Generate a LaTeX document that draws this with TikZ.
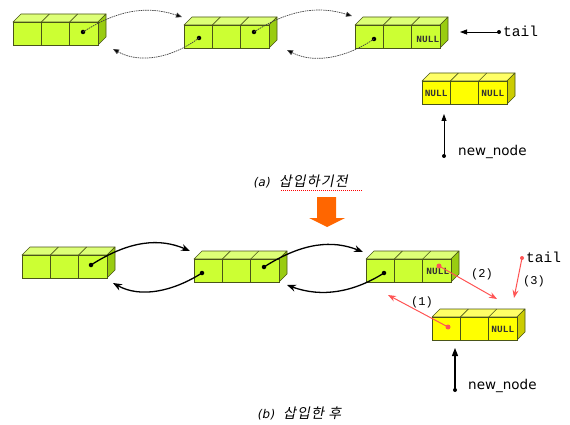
\documentclass[tikz,border=0pt]{standalone}
\usepackage{fontspec}
\setmainfont{DejaVu Sans}
\newfontfamily\monof{Liberation Mono}
\newfontfamily\kor[FakeSlant=0.2,LetterSpace=8]{Noto Sans CJK KR}
\newfontfamily\capf[FakeSlant=0.2]{DejaVu Sans}
\usetikzlibrary{arrows.meta,calc}
\definecolor{gfront}{HTML}{CCFF33}
\definecolor{gtop}{HTML}{DDFF77}
\definecolor{gside}{HTML}{99CC11}
\definecolor{yfront}{HTML}{FFFF00}
\definecolor{ytop}{HTML}{FFFF66}
\definecolor{yside}{HTML}{CCCC00}
\definecolor{edge}{HTML}{4A5518}
\definecolor{redarr}{HTML}{FF5555}
\definecolor{orng}{HTML}{FF6600}
\tikzset{
  cell/.style={draw=edge,line width=0.6pt,minimum width=28.33pt,minimum height=23pt,inner sep=0pt,outer sep=0pt},
  face/.style={draw=edge,line width=0.6pt,line join=round},
  dot/.style={circle,fill=black,inner sep=0pt,minimum size=4.5pt},
  rdot/.style={circle,fill=redarr,inner sep=0pt,minimum size=5pt},
  nulltxt/.style={font=\monof\fontsize{9.5}{9.5}\selectfont\bfseries,text=black!80},
  linka/.style={draw=black!75,line width=0.7pt,dash pattern=on 1.5pt off 0.8pt,-{Triangle[length=6pt,width=5pt,fill=black]}},
  linkb/.style={draw=black,line width=1.3pt,-{Stealth[length=9pt,width=7pt]}},
  redlink/.style={draw=redarr,line width=1pt,-{Stealth[length=8pt,width=6pt]}},
  ptr/.style={draw=black,line width=0.8pt,-{Triangle[length=7pt,width=5pt]}},
  ptrb/.style={draw=black,line width=1.2pt,-{Triangle[length=8pt,width=6pt]}},
  lbl/.style={inner sep=1pt,font=\monof\fontsize{12}{12}\selectfont},
  tailtxt/.style={anchor=west,font=\monof\fontsize{14.5}{14.5}\selectfont,inner sep=0pt},
  nntxt/.style={anchor=west,font=\fontsize{13.5}{13.5}\selectfont,inner sep=0pt},
}
% #1 name, #2 x, #3 y (top-left of front face), #4 front, #5 top, #6 side
\newcommand\lnode[6]{%
  \path[face,fill=#5] (#2,#3) -- ++(8,-8) -- ++(85,0) -- ++(-8,8) -- cycle;
  \path[face,fill=#6] (#2+85,#3) -- ++(8,-8) -- ++(0,23) -- ++(-8,8) -- cycle;
  \draw[edge,line width=0.6pt] (#2+28.33,#3) -- ++(8,-8) (#2+56.67,#3) -- ++(8,-8);
  \node[cell,fill=#4,anchor=north west] (#1a) at (#2,#3) {};
  \node[cell,fill=#4,anchor=north west] (#1b) at (#1a.north east) {};
  \node[cell,fill=#4,anchor=north west] (#1c) at (#1b.north east) {};
}
\begin{document}
\begin{tikzpicture}[x=1pt,y=-1pt]
\useasboundingbox (0,0) rectangle (570,425);
% ---------- (a) ----------
\lnode{A1}{13}{22}{gfront}{gtop}{gside}
\lnode{A2}{184}{25}{gfront}{gtop}{gside}
\lnode{A3}{355}{25}{gfront}{gtop}{gside}
\node[nulltxt] at ([xshift=2pt,yshift=-3pt]A3c.center) {NULL};
\lnode{AN}{422}{81}{yfront}{ytop}{yside}
\node[nulltxt] at ([yshift=-1pt]ANa.center) {NULL};
\node[nulltxt] at ([yshift=-1pt]ANc.center) {NULL};

\node[dot] (a1) at (83,32) {};
\node[dot] (a2l) at (199,38) {};
\node[dot] (a2r) at (254,32) {};
\node[dot] (a3l) at (374,39) {};
\coordinate (a2in) at (182,17);
\coordinate (a1in) at (113,49);
\coordinate (a3in) at (352,16);
\coordinate (a2rin) at (287,50);

\draw[linka] (a1.center) .. controls (125,5) and (155,8) .. (a2in);
\draw[linka] (a2l.center) .. controls (172,58) and (140,64) .. (a1in);
\draw[linka] (a2r.center) .. controls (296,5) and (326,8) .. (a3in);
\draw[linka] (a3l.center) .. controls (346,58) and (314,64) .. (a2rin);

\node[dot,minimum size=4pt] (tA) at (499,32) {};
\coordinate (tAin) at (460,32);
\draw[ptr] (tA.center) -- (tAin);
\node[tailtxt] (tailA) at (503,31) {tail};

\node[dot,minimum size=4pt] (nA) at (444,156) {};
\coordinate (nAin) at (444,114);
\draw[ptr] (nA.center) -- (nAin);
\node[nntxt] (nnA) at (458,152) {new\_node};

\node[anchor=west,inner sep=0pt] (capA) at (253,182) {{\capf\fontsize{12}{12}\selectfont(a)}\hspace{9pt}{\kor\fontsize{14}{14}\selectfont 삽입하기전}};
\draw[red,line width=0.4pt,dash pattern=on 1pt off 1pt] (281,190) -- (362,190);

% orange arrow
\fill[orng] (317,197) -- (336,197) -- (336,218) -- (345,218) -- (327,227) -- (309,218) -- (317,218) -- cycle;

% ---------- (b) ----------
\lnode{B1}{22}{255}{gfront}{gtop}{gside}
\lnode{B2}{194}{259}{gfront}{gtop}{gside}
\lnode{B3}{366}{259}{gfront}{gtop}{gside}
\node[nulltxt] at ([xshift=1pt,yshift=-1pt]B3c.center) {NULL};
\lnode{BN}{432}{317}{yfront}{ytop}{yside}
\node[nulltxt] at ([yshift=-1pt]BNc.center) {NULL};

\node[dot] (b1) at (91,265) {};
\node[dot] (b2l) at (202,273) {};
\node[dot] (b2r) at (264,267) {};
\node[dot] (b3l) at (384,273) {};
\coordinate (b2in) at (190,251);
\coordinate (b1in) at (113,283);
\coordinate (b3in) at (363,252);
\coordinate (b2rin) at (287,285);

\draw[linkb] (b1.center) .. controls (130,240) and (160,238) .. (b2in);
\draw[linkb] (b2l.center) .. controls (172,292) and (140,298) .. (b1in);
\draw[linkb] (b2r.center) .. controls (303,242) and (333,240) .. (b3in);
\draw[linkb] (b3l.center) .. controls (354,292) and (322,298) .. (b2rin);

% red arrows
\node[rdot] (r1) at (448,327) {};
\coordinate (r1in) at (388,295);
\draw[redlink] (r1.center) -- (r1in);
\node[lbl] (l1) at (422,302) {(1)};

\node[rdot] (r2) at (439,266) {};
\coordinate (r2in) at (497,299);
\draw[redlink] (r2.center) -- (r2in);
\node[lbl] (l2) at (482,274) {(2)};

\node[rdot,minimum size=4pt] (r3) at (522,258) {};
\coordinate (r3in) at (514,298);
\draw[redlink] (r3.center) -- (r3in);
\node[lbl] (l3) at (534,281) {(3)};
\node[tailtxt] (tailB) at (526,257) {tail};

\node[dot,minimum size=4pt] (nB) at (455,390) {};
\coordinate (nBin) at (455,348);
\draw[ptrb] (nB.center) -- (nBin);
\node[nntxt] (nnB) at (468,386) {new\_node};

\node[anchor=west,inner sep=0pt] (capB) at (257,413) {{\capf\fontsize{12}{12}\selectfont(b)}\hspace{9pt}{\kor\fontsize{14}{14}\selectfont 삽입한 후}};
\end{tikzpicture}
\end{document}
